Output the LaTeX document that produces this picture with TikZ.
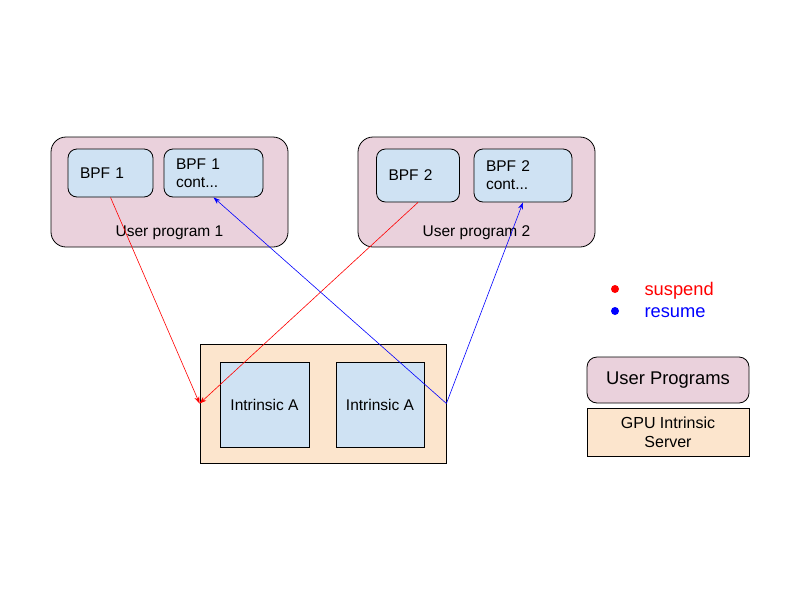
\documentclass[tikz,border=0pt]{standalone}
\usepackage{fontspec}
\setmainfont{Liberation Sans}
\usepackage{xcolor}
\usetikzlibrary{shapes, positioning, arrows.meta}

\definecolor{progpink}{HTML}{EAD1DC}
\definecolor{bpfblue}{HTML}{CFE2F3}
\definecolor{srvorange}{HTML}{FCE5CD}

\begin{document}
\begin{tikzpicture}[x=1pt, y=-1pt,
        font=\fontsize{15.5}{18}\selectfont,
        prog/.style={draw=black, line width=0.8pt, fill=progpink, rounded corners=15pt, minimum width=237pt, minimum height=110pt},
        bpf/.style={draw=black, line width=0.8pt, fill=bpfblue, rounded corners=9pt, inner xsep=12pt, align=left},
        intr/.style={draw=black, line width=0.8pt, fill=bpfblue, minimum width=89pt, minimum height=85pt},
        srv/.style={draw=black, line width=0.8pt, fill=srvorange},
        dot/.style={circle, inner sep=0pt, minimum size=8pt},
        arr/.style={-{Stealth[length=7pt, width=5pt]}, line width=0.6pt}]
        \useasboundingbox (0, 0) rectangle (800, 600);

        \node[prog] (up1) at (169.5, 192) {};
        \node[bpf, minimum height=48pt, text width=61pt] (bpf1) at (110.5, 173) {BPF 1};
        \node[bpf, minimum height=48pt, text width=75pt] (bpf1c) at (213.5, 173) {BPF 1\\cont...};
        \node (lbl1) at (169.5, 233) {User program 1};

        \node[prog] (up2) at (476.5, 192) {};
        \node[bpf, minimum height=53pt, text width=59pt] (bpf2) at (418, 175.5) {BPF 2};
        \node[bpf, minimum height=53pt, text width=74pt] (bpf2c) at (523, 175.5) {BPF 2\\cont...};
        \node (lbl2) at (476.5, 233) {User program 2};

        \node[srv, minimum width=246pt, minimum height=119pt] (gpu) at (323, 403.5) {};
        \node[intr] (intA) at (264.5, 404.5) {Intrinsic A};
        \node[intr, minimum width=88pt] (intB) at (380, 404.5) {Intrinsic A};

        \node[dot, fill=red] (dsus) at (615, 289) {};
        \node[anchor=west, text=red, font=\fontsize{18.3}{20}\selectfont] (tsus) at (641, 290.5) {suspend};
        \node[dot, fill=blue] (dres) at (615, 311) {};
        \node[anchor=west, text=blue, font=\fontsize{18.3}{20}\selectfont] (tres) at (641, 312.5) {resume};

        \node[prog, rounded corners=10pt, minimum width=162pt, minimum height=46pt, font=\fontsize{18.4}{20}\selectfont] (keyprog) at (668, 380) {User Programs};
        \node[srv, minimum width=162pt, minimum height=48pt, align=center, font=\fontsize{16}{19}\selectfont] (keysrv) at (668, 432) {GPU Intrinsic\\Server};

        \draw[arr, red] (bpf1.south) to (gpu.west);
        \draw[arr, red] (bpf2.south) to (gpu.west);
        \draw[arr, blue] (gpu.east) to (bpf1c.south);
        \draw[arr, blue] (gpu.east) to (bpf2c.south);
    \end{tikzpicture}
\end{document}
